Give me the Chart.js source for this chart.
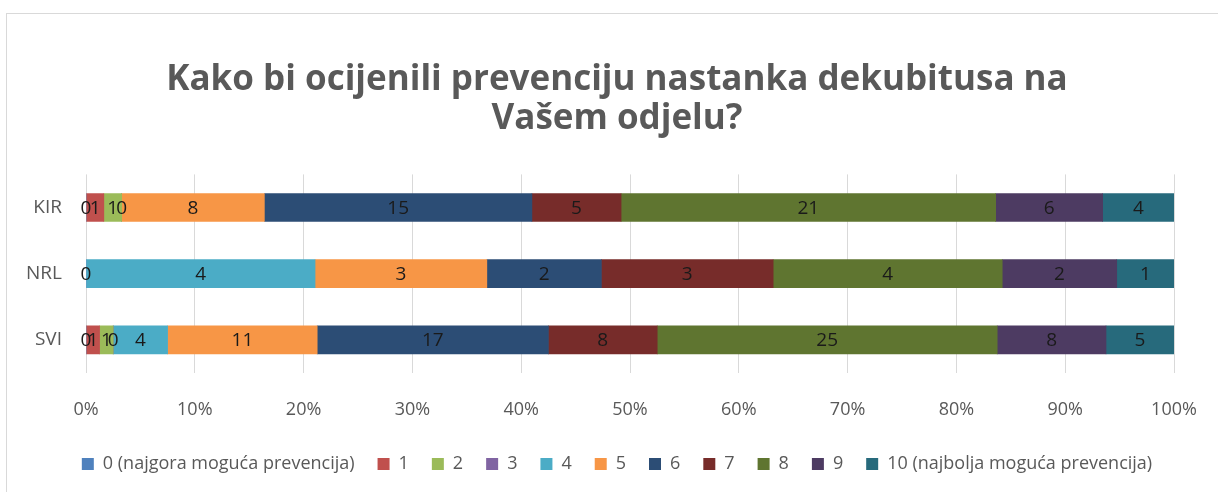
<!DOCTYPE html>
<html>
<head>
<meta charset="utf-8">
<script src="https://cdn.jsdelivr.net/npm/chart.js@4.4.1/dist/chart.umd.min.js"></script>
<style>
  html, body { margin: 0; padding: 0; background: #fff; overflow: hidden; }
  #wrap { position: relative; width: 1218px; height: 492px; }
  #frame { position: absolute; left: 6px; top: 13px; width: 1240px; height: 500px;
           border: 1px solid #d9d9d9; box-sizing: border-box; pointer-events: none; }
</style>
</head>
<body>
<div id="wrap">
  <canvas id="chart" width="1218" height="492"></canvas>
  <div id="frame"></div>
</div>
<script>
const categories = ['KIR', 'NRL', 'SVI'];

const seriesNames = ['0 (najgora moguća prevencija)', '1', '2', '3', '4', '5', '6', '7', '8', '9', '10 (najbolja moguća prevencija)'];

// counts per grade, order: KIR, NRL, SVI (null = no label / not present)
const grade0  = [0, 0, 0];
const grade1  = [1, null, 1];
const grade2  = [1, null, 1];
const grade3  = [0, null, 0];
const grade4  = [null, 4, 4];
const grade5  = [8, 3, 11];
const grade6  = [15, 2, 17];
const grade7  = [5, 3, 8];
const grade8  = [21, 4, 25];
const grade9  = [6, 2, 8];
const grade10 = [4, 1, 5];

const tickLabels = ['0%', '10%', '20%', '30%', '40%', '50%', '60%', '70%', '80%', '90%', '100%'];

const colors = ['#4F81BD', '#C0504D', '#9BBB59', '#8064A2', '#4BACC6', '#F79646',
                '#2C4D75', '#772C2A', '#5F7530', '#4D3B62', '#276A7C'];

const allSeries = [grade0, grade1, grade2, grade3, grade4, grade5, grade6, grade7, grade8, grade9, grade10];

const totals = categories.map((c, i) => allSeries.reduce((s, arr) => s + (arr[i] || 0), 0));

const FONT = "'Open Sans', 'Liberation Sans', sans-serif";

const datasets = allSeries.map((arr, k) => ({
  label: seriesNames[k],
  counts: arr,
  data: arr.map((v, i) => v === null ? null : v / totals[i] * 100),
  backgroundColor: colors[k],
  borderWidth: 0,
  barThickness: 28
}));

// draws the count in the middle of each segment
const valueLabels = {
  id: 'valueLabels',
  afterDatasetsDraw(chart) {
    const ctx = chart.ctx;
    ctx.save();
    ctx.font = '19px ' + FONT;
    ctx.fillStyle = '#1a1a1a';
    ctx.textAlign = 'center';
    ctx.textBaseline = 'middle';
    chart.data.datasets.forEach((ds, di) => {
      const meta = chart.getDatasetMeta(di);
      meta.data.forEach((el, i) => {
        const v = ds.counts[i];
        if (v === null || v === undefined) return;
        const cx = (el.x + el.base) / 2;
        ctx.fillText(String(v), cx, el.y + 1);
      });
    });
    ctx.restore();
  }
};

new Chart(document.getElementById('chart'), {
  type: 'bar',
  data: { labels: categories, datasets: datasets },
  options: {
    indexAxis: 'y',
    responsive: false,
    animation: false,
    layout: { padding: { left: 16, right: 0, top: 0, bottom: 9 } },
    plugins: {
      legend: {
        position: 'bottom',
        labels: {
          boxWidth: 12,
          boxHeight: 12,
          padding: 23,
          color: '#595959',
          font: { size: 18, family: FONT }
        }
      },
      tooltip: { enabled: false },
      title: {
        display: true,
        text: ['Kako bi ocijenili prevenciju nastanka dekubitusa na', 'Vašem odjelu?'],
        color: '#595959',
        font: { size: 35, weight: 'bold', family: FONT, lineHeight: 1.12 },
        padding: { top: 60, bottom: 36 }
      }
    },
    scales: {
      x: {
        stacked: true,
        min: 0,
        max: 100,
        ticks: {
          stepSize: 10,
          color: '#595959',
          font: { size: 18, family: FONT },
          padding: 26,
          callback: (v, i) => tickLabels[i]
        },
        grid: { color: '#d9d9d9', drawTicks: false },
        border: { display: false },
        afterFit: (scale) => {
          scale.height = 59;
          scale.paddingLeft = 0;
          scale.paddingRight = 0;
        }
      },
      y: {
        stacked: true,
        ticks: {
          color: '#595959',
          font: { size: 19, family: FONT },
          padding: 24
        },
        grid: { display: false, drawTicks: false },
        border: { display: false },
        afterFit: (scale) => { scale.width = 70; }
      },
      // empty spacer on the right so the plot ends where the original does
      spacer: {
        type: 'linear',
        position: 'right',
        display: true,
        ticks: { display: false },
        grid: { display: false, drawTicks: false },
        border: { display: false },
        afterFit: (scale) => { scale.width = 44; }
      }
    }
  },
  plugins: [valueLabels]
});
</script>
</body>
</html>
